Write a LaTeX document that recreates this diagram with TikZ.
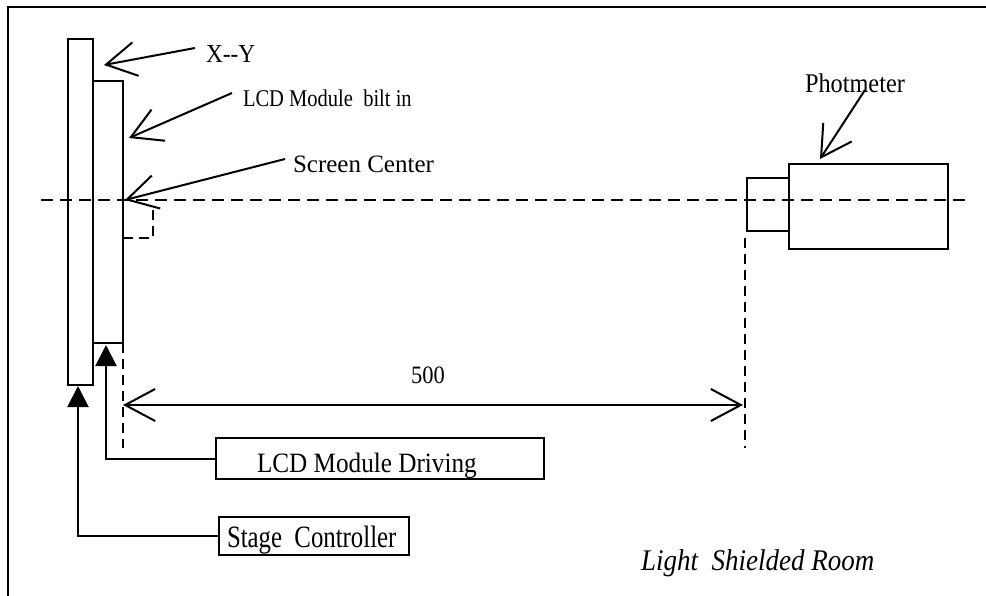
\documentclass[tikz,border=0pt]{standalone}
\usepackage{fontspec}
\setmainfont{Liberation Serif}
\newfontfamily\mfont[FakeStretch=0.9]{Liberation Serif}
\newfontfamily\stfont[FakeStretch=0.8]{Liberation Serif}
\usetikzlibrary{arrows.meta}
\begin{document}
\begin{tikzpicture}[x=1pt,y=-1pt,line width=2pt,
  box/.style={draw,line width=2pt,inner sep=0pt,outer sep=0pt,anchor=north west},
  lbl/.style={inner sep=0pt,anchor=base west},
  barb/.style={-{Straight Barb[length=30pt,width=34pt]}},
  dimarrow/.style={{Straight Barb[length=30pt,width=32pt]}-{Straight Barb[length=30pt,width=32pt]}},
  tri/.style={-{Triangle[length=21pt,width=21pt]}},
  axisdash/.style={dash pattern=on 12pt off 7pt},
  vdash/.style={dash pattern=on 10pt off 6pt}]
\useasboundingbox (0,0) rectangle (986,596);
% frame
\draw[line width=2.5pt] (986,7) -- (8,7) -- (8,596);
% axis
\coordinate (axl) at (41,200);
\coordinate (axr) at (965,200);
\draw[axisdash] (axl) -- (axr);
% panels
\node[box,minimum width=25pt,minimum height=346pt] (xy) at (68,39) {};
\node[box,minimum width=30pt,minimum height=262pt] (lcd) at (93,81) {};
% photometer
\node[box,minimum width=42pt,minimum height=53pt] (psmall) at (747,178) {};
\node[box,minimum width=159pt,minimum height=85pt] (pbig) at (789,164) {};
% small dashed rect
\coordinate (sq1) at (123,238);
\coordinate (sq2) at (153,238);
\coordinate (sq3) at (153,205);
\draw[vdash] (sq1) -- (sq2) -- (sq3);
% labels
\node[lbl,font={\mfont\fontsize{26}{30}\selectfont}] (lxy) at (205,63) {X--Y};
\node[lbl,font={\mfont\fontsize{24}{29}\selectfont}] (lbilt) at (242,107) {\scalebox{0.95}[1]{LCD Module\ \ bilt in}};
\node[lbl,font={\fontsize{25}{29}\selectfont}] (lscr) at (292,173) {Screen Center};
\node[lbl,font={\mfont\fontsize{27}{32}\selectfont}] (lphot) at (804,93) {Photmeter};
\node[lbl,font={\mfont\fontsize{25}{29}\selectfont}] (l500) at (410,383) {500};
\node[lbl,font={\mfont\itshape\fontsize{30}{36}\selectfont}] (lroom) at (640,570) {Light\ \ Shielded Room};
% label arrows
\coordinate (s1) at (195,48);  \coordinate (t1) at (104,65);
\coordinate (s2) at (232,93);  \coordinate (t2) at (129,138);
\coordinate (s3) at (285,159); \coordinate (t3) at (125,200);
\coordinate (s4) at (865,90);  \coordinate (t4) at (820,159);
\draw[barb] (s1) -- (t1);
\draw[barb] (s2) -- (t2);
\draw[barb] (s3) -- (t3);
\draw[barb] (s4) -- (t4);
% dashed verticals
\coordinate (dv1) at (123,448);
\coordinate (dv2a) at (745,238);
\coordinate (dv2b) at (745,448);
\draw[vdash] (lcd.south east) -- (dv1);
\draw[vdash] (dv2a) -- (dv2b);
% dimension
\coordinate (dl) at (123,405);
\coordinate (dr) at (743,405);
\draw[dimarrow] (dl) -- (dr);
% boxes
\node[box,minimum width=328pt,minimum height=41pt,text height=27pt,text depth=0pt,
  font={\mfont\fontsize{28}{32}\selectfont}] (drv) at (216,438) {\makebox[246pt][l]{LCD Module Driving}};
\node[box,minimum width=190pt,minimum height=38pt,text height=22pt,text depth=0pt,
  font={\stfont\fontsize{31}{36}\selectfont}] (stg) at (219,517) {\makebox[174pt][l]{Stage\ \ Controller}};
% connectors
\coordinate (lcdtip) at (106,345);
\coordinate (xytip) at (78,386);
\draw[tri] (drv.west) -| (lcdtip);
\draw[tri] (stg.west) -| (xytip);
\end{tikzpicture}
\end{document}
